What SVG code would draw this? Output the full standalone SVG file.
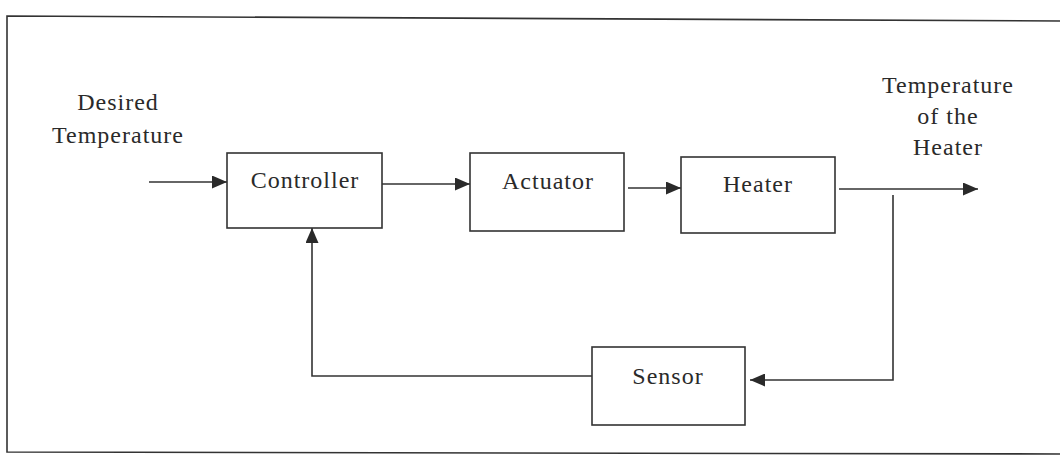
<svg xmlns="http://www.w3.org/2000/svg" width="1060" height="456" viewBox="0 0 1060 456">
<style>
.box{fill:#fff;stroke:#333;stroke-width:1.6}
.ln{fill:none;stroke:#333;stroke-width:1.6}
.t{font-size:24px;letter-spacing:1px;fill:#2a2a2a;text-anchor:middle}
</style>
<defs>
<marker id="ah" viewBox="0 0 15 13" refX="15" refY="6.5" markerWidth="15" markerHeight="13" markerUnits="userSpaceOnUse" orient="auto">
<path d="M0,0 L15,6.5 L0,13 Z" fill="#2a2a2a"/>
</marker>
</defs>
<rect width="1060" height="456" fill="#fff"/>
<g id="frame">
<polyline class="ln" points="1060,21 7,16 7,452 1060,454"/>
</g>
<g id="labels" font-family="'Liberation Serif', 'Times New Roman', 'DejaVu Serif', serif">
<text class="t" x="118" y="110">Desired</text>
<text class="t" x="118" y="143">Temperature</text>
<text class="t" x="948" y="93">Temperature</text>
<text class="t" x="948" y="124">of the</text>
<text class="t" x="948" y="155">Heater</text>
</g>
<g id="connectors">
<line class="ln" x1="149" y1="182" x2="227" y2="182" marker-end="url(#ah)"/>
<line class="ln" x1="382" y1="184" x2="470" y2="184" marker-end="url(#ah)"/>
<line class="ln" x1="628" y1="188" x2="681" y2="188" marker-end="url(#ah)"/>
<line class="ln" x1="839" y1="189" x2="978" y2="189" marker-end="url(#ah)"/>
<polyline class="ln" points="893,195 893,380 750,380" marker-end="url(#ah)"/>
<polyline class="ln" points="592,376 312,376 312,228" marker-end="url(#ah)"/>
</g>
<g id="controller" font-family="'Liberation Serif', 'Times New Roman', 'DejaVu Serif', serif">
<rect class="box" x="227" y="153" width="155" height="75"/>
<text class="t" x="305" y="188">Controller</text>
</g>
<g id="actuator" font-family="'Liberation Serif', 'Times New Roman', 'DejaVu Serif', serif">
<rect class="box" x="470" y="153" width="154" height="78"/>
<text class="t" x="548" y="189">Actuator</text>
</g>
<g id="heater" font-family="'Liberation Serif', 'Times New Roman', 'DejaVu Serif', serif">
<rect class="box" x="681" y="157" width="154" height="76"/>
<text class="t" x="758" y="192">Heater</text>
</g>
<g id="sensor" font-family="'Liberation Serif', 'Times New Roman', 'DejaVu Serif', serif">
<rect class="box" x="592" y="347" width="153" height="78"/>
<text class="t" x="668" y="384">Sensor</text>
</g>
</svg>
